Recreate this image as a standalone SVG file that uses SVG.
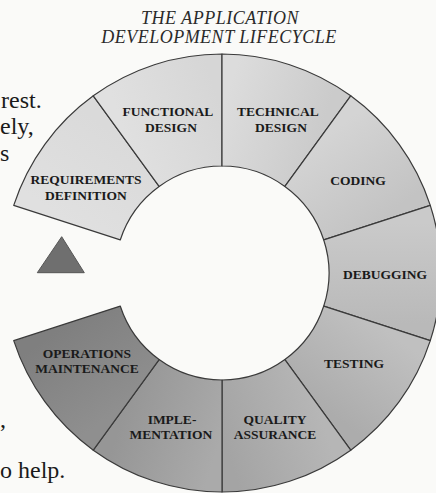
<svg xmlns="http://www.w3.org/2000/svg" width="436" height="493" viewBox="0 0 436 493">
<style>
.bg{fill:#fafaf8}
.seg{stroke:#3a3a3a;stroke-width:1.2;stroke-linejoin:round}
.lbl{font-family:"Liberation Serif","Times New Roman",serif;font-size:13.5px;font-weight:bold;fill:#1a1a1a;text-anchor:middle}
.title{font-family:"Liberation Serif","Times New Roman",serif;font-style:italic;font-size:18px;letter-spacing:0.5px;fill:#2a2a2a;text-anchor:middle}
.body{font-family:"Liberation Serif","Times New Roman",serif;font-size:24px;fill:#1a1a1a}
</style>
<defs>
<linearGradient id="gReq" gradientUnits="userSpaceOnUse" x1="67" y1="222.6" x2="126.2" y2="141.1"><stop offset="0" stop-color="#e0e0e0"/><stop offset="1" stop-color="#dadada"/></linearGradient>
<linearGradient id="gFun" gradientUnits="userSpaceOnUse" x1="126.2" y1="141.1" x2="222" y2="110"><stop offset="0" stop-color="#e0e0e0"/><stop offset="1" stop-color="#d6d6d6"/></linearGradient>
<linearGradient id="gTec" gradientUnits="userSpaceOnUse" x1="222" y1="110" x2="317.8" y2="141.1"><stop offset="0" stop-color="#dcdcdc"/><stop offset="1" stop-color="#cbcbcb"/></linearGradient>
<linearGradient id="gCod" gradientUnits="userSpaceOnUse" x1="317.8" y1="141.1" x2="377" y2="222.6"><stop offset="0" stop-color="#d4d4d4"/><stop offset="1" stop-color="#c3c3c3"/></linearGradient>
<linearGradient id="gDeb" gradientUnits="userSpaceOnUse" x1="377" y1="222.6" x2="377" y2="323.4"><stop offset="0" stop-color="#cacaca"/><stop offset="1" stop-color="#b9b9b9"/></linearGradient>
<linearGradient id="gTes" gradientUnits="userSpaceOnUse" x1="377" y1="323.4" x2="317.8" y2="404.9"><stop offset="0" stop-color="#c0c0c0"/><stop offset="1" stop-color="#acacac"/></linearGradient>
<linearGradient id="gQua" gradientUnits="userSpaceOnUse" x1="317.8" y1="404.9" x2="222" y2="436"><stop offset="0" stop-color="#b6b6b6"/><stop offset="1" stop-color="#a4a4a4"/></linearGradient>
<linearGradient id="gImp" gradientUnits="userSpaceOnUse" x1="222" y1="436" x2="126.2" y2="404.9"><stop offset="0" stop-color="#aaaaaa"/><stop offset="1" stop-color="#969696"/></linearGradient>
<linearGradient id="gOps" gradientUnits="userSpaceOnUse" x1="126.2" y1="404.9" x2="67" y2="323.4"><stop offset="0" stop-color="#8f8f8f"/><stop offset="1" stop-color="#7f7f7f"/></linearGradient>
</defs>
<rect class="bg" x="0" y="0" width="436" height="493"/>

<g id="body-text">
<text class="body" x="1" y="108">rest.</text>
<text class="body" x="0" y="134">ely,</text>
<text class="body" x="0" y="161">s</text>
<text class="body" x="0" y="427">,</text>
<text class="body" x="0" y="478">o help.</text>
</g>

<g id="title">
<text class="title" x="220" y="24">THE APPLICATION</text>
<text class="title" x="219" y="43">DEVELOPMENT LIFECYCLE</text>
</g>

<g id="connectors"></g>

<g id="requirements-definition">
<path class="seg" fill="url(#gReq)" d="M13.72,205.32 A219,219 0 0 1 93.28,95.83 L159.11,186.44 A107,107 0 0 0 120.24,239.94 Z"/>
<text class="lbl" x="86" y="184">REQUIREMENTS</text>
<text class="lbl" x="86" y="200">DEFINITION</text>
</g>
<g id="functional-design">
<path class="seg" fill="url(#gFun)" d="M93.28,95.83 A219,219 0 0 1 222,54 L222,166 A107,107 0 0 0 159.11,186.44 Z"/>
<text class="lbl" x="168" y="116">FUNCTIONAL</text>
<text class="lbl" x="171" y="132">DESIGN</text>
</g>
<g id="technical-design">
<path class="seg" fill="url(#gTec)" d="M222,54 A219,219 0 0 1 350.72,95.83 L284.89,186.44 A107,107 0 0 0 222,166 Z"/>
<text class="lbl" x="278" y="116">TECHNICAL</text>
<text class="lbl" x="281" y="132">DESIGN</text>
</g>
<g id="coding">
<path class="seg" fill="url(#gCod)" d="M350.72,95.83 A219,219 0 0 1 430.28,205.32 L323.76,239.94 A107,107 0 0 0 284.89,186.44 Z"/>
<text class="lbl" x="358" y="185">CODING</text>
</g>
<g id="debugging">
<path class="seg" fill="url(#gDeb)" d="M430.28,205.32 A219,219 0 0 1 430.28,340.68 L323.76,306.06 A107,107 0 0 0 323.76,239.94 Z"/>
<text class="lbl" x="385" y="279">DEBUGGING</text>
</g>
<g id="testing">
<path class="seg" fill="url(#gTes)" d="M430.28,340.68 A219,219 0 0 1 350.72,450.17 L284.89,359.56 A107,107 0 0 0 323.76,306.06 Z"/>
<text class="lbl" x="354" y="368">TESTING</text>
</g>
<g id="quality-assurance">
<path class="seg" fill="url(#gQua)" d="M350.72,450.17 A219,219 0 0 1 222,492 L222,380 A107,107 0 0 0 284.89,359.56 Z"/>
<text class="lbl" x="275" y="424">QUALITY</text>
<text class="lbl" x="275" y="439">ASSURANCE</text>
</g>
<g id="implementation">
<path class="seg" fill="url(#gImp)" d="M222,492 A219,219 0 0 1 93.28,450.17 L159.11,359.56 A107,107 0 0 0 222,380 Z"/>
<text class="lbl" x="172" y="424">IMPLE-</text>
<text class="lbl" x="171" y="439">MENTATION</text>
</g>
<g id="operations-maintenance">
<path class="seg" fill="url(#gOps)" d="M93.28,450.17 A219,219 0 0 1 13.72,340.68 L120.24,306.06 A107,107 0 0 0 159.11,359.56 Z"/>
<text class="lbl" x="87" y="358">OPERATIONS</text>
<text class="lbl" x="87" y="373">MAINTENANCE</text>
</g>

<g id="triangle">
<polygon points="61.7,236.7 37.3,272.7 84.3,272.7" fill="#6f6f6f" stroke="#555" stroke-width="1"/>
</g>
</svg>
